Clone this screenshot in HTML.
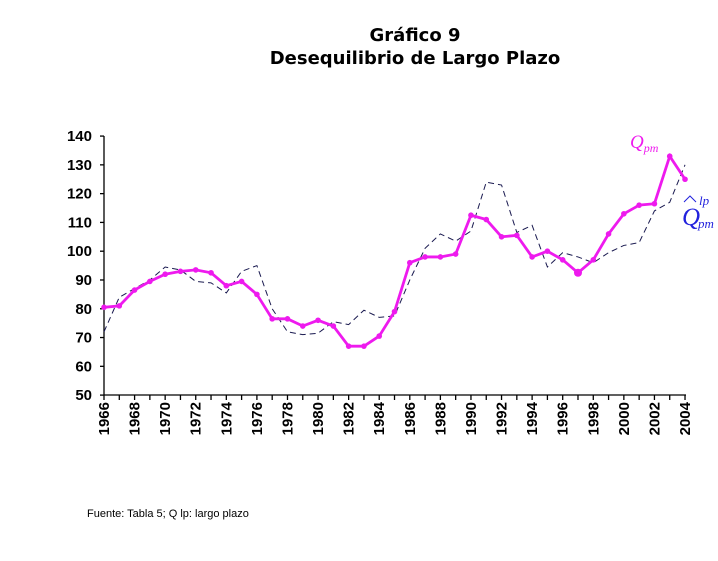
<!DOCTYPE html>
<html><head><meta charset="utf-8"><style>
body{margin:0;background:#fff;width:718px;height:556px;overflow:hidden;font-family:"Liberation Sans",sans-serif}
</style></head><body>
<svg id="s" width="718" height="556" xmlns="http://www.w3.org/2000/svg">
<text x="415" y="41" text-anchor="middle" font-family="DejaVu Sans" font-weight="bold" font-size="18">Gráfico 9</text>
<text x="415" y="64" text-anchor="middle" font-family="DejaVu Sans" font-weight="bold" font-size="18">Desequilibrio de Largo Plazo</text>
<text x="87" y="517" font-size="11">Fuente: Tabla 5; Q lp: largo plazo</text>
<g id="ax" stroke="#000" stroke-width="1.3"></g>
<g id="lab" font-weight="bold" font-size="15"></g>
<polyline id="d" fill="none" stroke="#1a1a50" stroke-width="1" stroke-dasharray="6,4"/>
<polyline id="m" fill="none" stroke="#ee1aee" stroke-width="2.8"/>
<g id="dots" fill="#ee1aee"></g>
<text x="630" y="148" fill="#ee1aee" font-family="Liberation Serif" font-style="italic" font-size="19">Q<tspan font-size="12" dy="4">pm</tspan></text>
<text x="682" y="225" fill="#2222dd" font-family="Liberation Serif" font-style="italic" font-size="25">Q</text>
<polyline points="684,202 690,196 696,202" fill="none" stroke="#2222dd" stroke-width="1"/>
<text x="699" y="205" fill="#2222dd" font-family="Liberation Serif" font-style="italic" font-size="13">lp</text>
<text x="698" y="228" fill="#2222dd" font-family="Liberation Serif" font-style="italic" font-size="13">pm</text>
</svg>
<script>
var X=y=>104+(y-1966)*15.29, Y=v=>539-v*2.878;
var q=[80.5,81,86.5,89.5,92,93,93.5,92.5,88,89.5,85,76.5,76.5,74,76,74,67,67,70.5,79,96,98,98,99,112.5,111,105,105.5,98,100,97,92.5,97,106,113,116,116.5,133,125];
var d=[72,84,87,90,94.5,93.5,89.5,89,85.5,93,95,80,72,71,71.5,75.5,74.5,79.5,77,77.5,90,101,106,103.5,107,124,123,106.5,109,94.5,99.5,98,96,99.5,102,103,114,117,130];
var NS="http://www.w3.org/2000/svg";
function el(p,t,a,txt){var e=document.createElementNS(NS,t);for(var k in a)e.setAttribute(k,a[k]);if(txt)e.textContent=txt;document.getElementById(p).appendChild(e);return e;}
document.getElementById('m').setAttribute('points',q.map((v,i)=>X(1966+i)+','+Y(v)).join(' '));
document.getElementById('d').setAttribute('points',d.map((v,i)=>X(1966+i)+','+Y(v)).join(' '));
q.forEach((v,i)=>el('dots','circle',{cx:X(1966+i),cy:Y(v),r:i==31?4:2.8}));
el('ax','line',{x1:104,y1:136,x2:104,y2:395});
el('ax','line',{x1:104,y1:395,x2:686,y2:395});
for(var v=50;v<=140;v+=10){el('ax','line',{x1:100,y1:Y(v),x2:104,y2:Y(v)});el('lab','text',{x:92,y:Y(v)+5,'text-anchor':'end'},v);}
for(var yr=1966;yr<=2004;yr++){el('ax','line',{x1:X(yr),y1:395,x2:X(yr),y2:400});
if(yr%2==0)el('lab','text',{transform:'translate('+(X(yr)+5)+',402) rotate(-90)','text-anchor':'end'},yr);}
</script>
</body></html>
